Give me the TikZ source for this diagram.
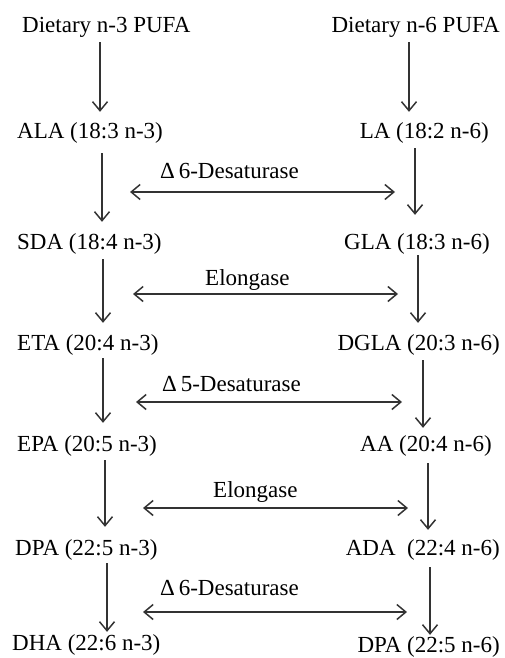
\documentclass[tikz,border=0pt]{standalone}
\usepackage{fontspec}
\setmainfont{Liberation Serif}
\usetikzlibrary{arrows.meta}

\tikzset{
  fa/.style={inner sep=0pt, font=\fontsize{23}{27}\selectfont},
  faleft/.style={fa, anchor=base west},
  faright/.style={fa, anchor=base east},
  enzyme/.style={fa, anchor=base west},
  conv/.style={draw=black!80, line width=1.5pt, -{Straight Barb[length=9pt,width=15pt]}},
  both/.style={draw=black!80, line width=1.5pt, {Straight Barb[length=9pt,width=15pt]}-{Straight Barb[length=9pt,width=15pt]}}
}

\begin{document}
\begin{tikzpicture}[x=1pt, y=-1pt]
                    \useasboundingbox (0,0) rectangle (504,658);

                    % n-3 column
                    \node[faleft] (dn3) at (22,33) {Dietary n-3 PUFA};
                    \node[faleft] (ala) at (17,139) {ALA (18:3 n-3)};
                    \node[faleft] (sda) at (17,249) {SDA (18:4 n-3)};
                    \node[faleft] (eta) at (17,350) {ETA (20:4 n-3)};
                    \node[faleft] (epa) at (17,451) {EPA (20:5 n-3)};
                    \node[faleft] (dpa3) at (15,555) {DPA (22:5 n-3)};
                    \node[faleft] (dha) at (12,650) {DHA (22:6 n-3)};

                    % n-6 column
                    \node[faright] (dn6) at (500,33) {Dietary n-6 PUFA};
                    \node[faright] (la) at (489,139) {LA (18:2 n-6)};
                    \node[faright] (gla) at (490,249) {GLA (18:3 n-6)};
                    \node[faright] (dgla) at (500,350) {DGLA (20:3 n-6)};
                    \node[faright] (aa) at (492,451) {AA (20:4 n-6)};
                    \node[faright] (ada) at (500,555) {ADA\enspace(22:4 n-6)};
                    \node[faright] (dpa6) at (500,652) {DPA (22:5 n-6)};

                    \draw[conv, shorten <=4pt, shorten >=11pt] (dn3.south -| 100,0) -- (ala.north -| 100,0);
                    \draw[conv, shorten <=9pt, shorten >=11pt] (ala.south -| 102,0) -- (sda.north -| 102,0);
                    \draw[conv, shorten <=5pt, shorten >=11pt] (sda.south -| 103,0) -- (eta.north -| 103,0);
                    \draw[conv, shorten <=3pt, shorten >=12pt] (eta.south -| 103,0) -- (epa.north -| 103,0);
                    \draw[conv, shorten <=4pt, shorten >=12pt] (epa.south -| 105,0) -- (dpa3.north -| 105,0);
                    \draw[conv, shorten <=3pt, shorten >=2pt] (dpa3.south -| 107,0) -- (dha.north -| 107,0);

                    \draw[conv, shorten <=4pt, shorten >=11pt] (dn6.south -| 409,0) -- (la.north -| 409,0);
                    \draw[conv, shorten <=4pt, shorten >=18pt] (la.south -| 415,0) -- (gla.north -| 415,0);
                    \draw[conv, shorten <=1pt, shorten >=11pt] (gla.south -| 418,0) -- (dgla.north -| 418,0);
                    \draw[conv, shorten <=5pt, shorten >=7pt] (dgla.south -| 423,0) -- (aa.north -| 423,0);
                    \draw[conv, shorten <=7pt, shorten >=9pt] (aa.south -| 428,0) -- (ada.north -| 428,0);
                    \draw[conv, shorten <=7pt, shorten >=1pt] (ada.south -| 430,0) -- (dpa6.north -| 430,0);

                    % enzymes
                    \node[enzyme] (des6a) at (160,178) {Δ\,6-Desaturase};
                    \node[enzyme] (elo1) at (205,285) {Elongase};
                    \node[enzyme] (des5) at (162,391) {Δ\,5-Desaturase};
                    \node[enzyme] (elo2) at (213,497) {Elongase};
                    \node[enzyme] (des6b) at (160,595) {Δ\,6-Desaturase};

                    \coordinate (e1w) at (130,192);
                    \coordinate (e1e) at (395,192);
                    \coordinate (e2w) at (133,294);
                    \coordinate (e2e) at (398,294);
                    \coordinate (e3w) at (136,402);
                    \coordinate (e3e) at (402,402);
                    \coordinate (e4w) at (143,508);
                    \coordinate (e4e) at (408,508);
                    \coordinate (e5w) at (143,612);
                    \coordinate (e5e) at (407,612);

                    \draw[both] (e1w) -- (e1e);
                    \draw[both] (e2w) -- (e2e);
                    \draw[both] (e3w) -- (e3e);
                    \draw[both] (e4w) -- (e4e);
                    \draw[both] (e5w) -- (e5e);
                \end{tikzpicture}
\end{document}
